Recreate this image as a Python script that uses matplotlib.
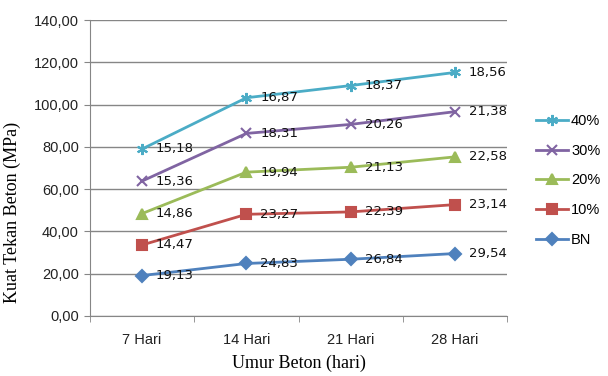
import numpy as np
import matplotlib.pyplot as plt

# Umur beton dan kuat tekan (MPa) tiap variasi - grafik bertumpuk
hari = ['7 Hari', '14 Hari', '21 Hari', '28 Hari']
seri = ['BN', '10%', '20%', '30%', '40%']
bn = [19.13, 24.83, 26.84, 29.54]
p10 = [14.47, 23.27, 22.39, 23.14]
p20 = [14.86, 19.94, 21.13, 22.58]
p30 = [15.36, 18.31, 20.26, 21.38]
p40 = [15.18, 16.87, 18.37, 18.56]

warna = ['#4F81BD', '#C0504D', '#9BBB59', '#8064A2', '#4BACC6']
marker = ['D', 's', '^', 'x', (6, 2, 0)]
msize = [6, 7, 7, 7, 8]

fig = plt.figure(figsize=(6.08, 3.76), dpi=100)
ax = fig.add_axes([0.148, 0.1596, 0.686, 0.7872])

data = np.array([bn, p10, p20, p30, p40])
tumpuk = np.cumsum(data, axis=0)
x = np.arange(len(hari))

garis = []
for i in range(len(seri)):
    l, = ax.plot(x, tumpuk[i], color=warna[i], lw=2, marker=marker[i],
                 ms=msize[i], mew=1.5, label=seri[i])
    garis.append(l)
    for xi, yi, v in zip(x, tumpuk[i], data[i]):
        ax.annotate(('%.2f' % v).replace('.', ','), (xi, yi),
                    xytext=(10, 0), textcoords='offset points',
                    va='center', ha='left', fontsize=9.5,
                    family='DejaVu Sans', color='#111111')

ax.set_xlim(-0.5, 3.5)
ax.set_ylim(0, 140)
ax.set_yticks(np.arange(0, 141, 20))
ax.set_yticklabels([('%.2f' % v).replace('.', ',') for v in range(0, 141, 20)],
                   family='Liberation Sans', fontsize=10.5, color='#222222')
ax.set_xticks(x)
ax.set_xticklabels(hari, family='Liberation Sans', fontsize=10.5,
                   color='#222222')
ax.set_xticks(np.arange(-0.5, 4, 1), minor=True)
ax.tick_params(axis='x', which='major', length=0, pad=12)
ax.tick_params(axis='x', which='minor', length=4, color='#868686')
ax.tick_params(axis='y', length=4, color='#868686', pad=4)
ax.grid(axis='y', color='#868686', lw=1)
ax.set_axisbelow(True)
for s in ['top', 'right']:
    ax.spines[s].set_visible(False)
for s in ['left', 'bottom']:
    ax.spines[s].set_color('#868686')

ax.set_ylabel('Kuat Tekan Beton (MPa)', family='Liberation Serif',
              fontsize=13)
ax.yaxis.set_label_coords(-0.165, 0.35)
ax.set_xlabel('Umur Beton (hari)', family='Liberation Serif', fontsize=13,
              labelpad=6)

leg = fig.legend(garis[::-1], seri[::-1], loc='center left',
                 bbox_to_anchor=(0.86, 0.52), frameon=False,
                 prop={'family': 'Liberation Sans', 'size': 10.5},
                 handlelength=2.2, labelspacing=1.08, handletextpad=0.2)

plt.savefig('out.png', dpi=100)
